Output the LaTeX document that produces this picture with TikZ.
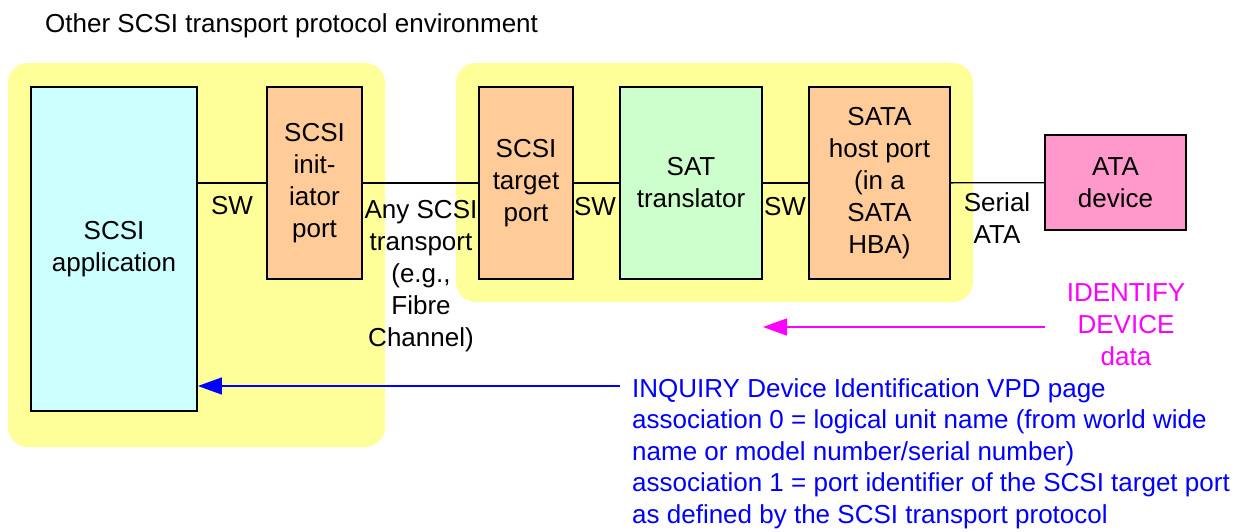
\documentclass[tikz,border=0pt]{standalone}
\usepackage{fontspec}
\setmainfont{Liberation Sans}
\usetikzlibrary{arrows.meta}
\definecolor{zoneyellow}{RGB}{255,255,153}
\definecolor{appcyan}{RGB}{204,255,255}
\definecolor{portorange}{RGB}{255,204,153}
\definecolor{satgreen}{RGB}{204,255,204}
\definecolor{atapink}{RGB}{255,153,204}
\definecolor{idmagenta}{RGB}{255,0,255}
\definecolor{inqblue}{RGB}{0,0,255}

\begin{document}
\begin{tikzpicture}[x=1pt, y=-1pt, every node/.style={font=\fontsize{26}{32}\selectfont, inner sep=0pt},blk/.style={draw, line width=1.8pt, align=center},zone/.style={fill=zoneyellow, rounded corners=20pt},lbl/.style={align=center},wire/.style={line width=1.3pt},ptr/.style={line width=1.5pt, -{Triangle[length=24pt, width=17pt]}}]
  \useasboundingbox (0,0) rectangle (1242,531);

  \node[anchor=base west] (title) at (45,32) {Other SCSI transport protocol environment};

  % yellow areas
  \node[zone, minimum width=377pt, minimum height=384pt] (envL) at (196.5,255) {};
  \node[zone, minimum width=517pt, minimum height=239pt] (envR) at (714.5,182.5) {};

  \node[blk, fill=appcyan, minimum width=166pt, minimum height=324pt] (app) at (114,249) {SCSI\\application};
  \node[blk, fill=portorange, minimum width=95pt, minimum height=192pt] (init) at (314.5,183) {SCSI\\init-\\iator\\port};
  \node[blk, fill=portorange, minimum width=94pt, minimum height=192pt] (tgt) at (526,183) {SCSI\\target\\port};
  \node[blk, fill=satgreen, minimum width=142pt, minimum height=192pt] (sat) at (691,183) {SAT\\translator};
  \node[blk, fill=portorange, minimum width=141pt, minimum height=192pt] (host) at (879.5,183) {SATA\\host port\\(in a\\SATA\\HBA)};
  \node[blk, fill=atapink, minimum width=141pt, minimum height=95pt] (ata) at (1115.5,182.5) {ATA\\device};

  \draw[wire] (app.east |- init.west) -- (init.west);
  \draw[wire] (init) -- (tgt);
  \draw[wire] (tgt) -- (sat);
  \draw[wire] (sat) -- (host);
  \draw[wire] (host) -- (ata);

  \node (sw1) at (232,206) {SW};
  \node (sw2) at (595,207) {SW};
  \node (sw3) at (785,207) {SW};
  \node[lbl] (anyxport) at (421,276) {Any SCSI\\transport\\(e.g.,\\Fibre\\Channel)};
  \node[lbl] (sata) at (997,218) {Serial\\ATA};

  % returned data
  \node[lbl, text=idmagenta] (iddata) at (1126,325) {IDENTIFY\\DEVICE\\data};
  \coordinate (idfrom) at (1045,327);
  \coordinate (idto) at (763,327);
  \draw[ptr, idmagenta] (idfrom) -- (idto);

  \node[align=left, anchor=north west, text=inqblue, font=\fontsize{26}{31.5}\selectfont] (inq) at (632,378) {INQUIRY Device Identification VPD page\\association 0 = logical unit name (from world wide\\name or model number/serial number)\\association 1 = port identifier of the SCSI target port\\as defined by the SCSI transport protocol};
  \coordinate (inqfrom) at (620,386);
  \draw[ptr, inqblue] (inqfrom) -- (inqfrom -| app.east);
\end{tikzpicture}
\end{document}
